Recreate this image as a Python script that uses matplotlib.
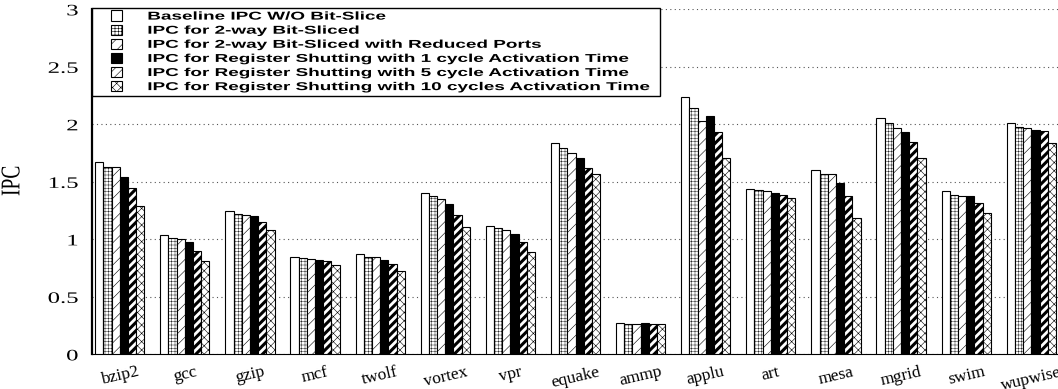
import matplotlib
matplotlib.use("Agg")
import matplotlib.pyplot as plt
from matplotlib.patches import Rectangle
from matplotlib.legend_handler import HandlerPatch
from matplotlib.patheffects import AbstractPathEffect
from matplotlib.transforms import Affine2D
import numpy as np

benchmarks = ["bzip2", "gcc", "gzip", "mcf", "twolf", "vortex", "vpr", "equake",
              "ammp", "applu", "art", "mesa", "mgrid", "swim", "wupwise"]

series_names = [
    "Baseline IPC W/O Bit-Slice",
    "IPC for 2-way Bit-Sliced",
    "IPC for 2-way Bit-Sliced with Reduced Ports",
    "IPC for Register Shutting with 1 cycle Activation Time",
    "IPC for Register Shutting with 5 cycle Activation Time",
    "IPC for Register Shutting with 10 cycles Activation Time",
]

baseline   = [1.67, 1.04, 1.25, 0.85, 0.87, 1.40, 1.12, 1.84, 0.27, 2.235, 1.435, 1.60, 2.055, 1.417, 2.01]
sliced     = [1.63, 1.01, 1.22, 0.835, 0.85, 1.375, 1.10, 1.795, 0.265, 2.14, 1.426, 1.57, 2.01, 1.388, 1.975]
reduced    = [1.625, 1.005, 1.21, 0.83, 0.845, 1.35, 1.08, 1.75, 0.265, 2.025, 1.417, 1.565, 1.965, 1.377, 1.965]
shut_1cyc  = [1.54, 0.98, 1.20, 0.82, 0.82, 1.31, 1.045, 1.71, 0.272, 2.07, 1.406, 1.49, 1.935, 1.377, 1.948]
shut_5cyc  = [1.445, 0.90, 1.148, 0.81, 0.79, 1.21, 0.977, 1.62, 0.262, 1.935, 1.388, 1.377, 1.846, 1.316, 1.94]
shut_10cyc = [1.287, 0.81, 1.078, 0.78, 0.728, 1.107, 0.887, 1.568, 0.262, 1.704, 1.357, 1.19, 1.704, 1.226, 1.835]

all_series = [baseline, sliced, reduced, shut_1cyc, shut_5cyc, shut_10cyc]

# fill / hatch / hatch width for each series
styles = [
    ("white", "", 0.5),
    ("white", "+++++", 0.3),
    ("white", "///", 0.4),
    ("black", "", 0.5),
    ("white", "////", 2.2),
    ("white", "xxxx", 0.4),
]

plt.rcParams["hatch.linewidth"] = 0.4


class Stretch(AbstractPathEffect):
    """Scale glyphs along the text direction, keeping the left or right end fixed."""
    def __init__(self, sx, anchor="left"):
        super().__init__()
        self.sx = sx
        self.anchor = anchor

    def draw_path(self, renderer, gc, tpath, affine, rgbFace=None):
        x0 = 0.0
        if self.anchor == "right":
            x0 = tpath.get_extents().x1
        t = Affine2D().translate(-x0, 0).scale(self.sx, 1.0).translate(x0, 0)
        renderer.draw_path(gc, tpath, t + affine, rgbFace)


fig = plt.figure(figsize=(10.58, 3.89), dpi=100)
ax = fig.add_axes([0.087, 0.089, 0.913, 0.887])

x = np.arange(len(benchmarks))
width = 0.126
handles = []
for i, (vals, (fc, hatch, hlw)) in enumerate(zip(all_series, styles)):
    offs = (i - 2.5) * width
    bars = ax.bar(x + offs, vals, width, facecolor=fc, edgecolor="black",
                  linewidth=0.8, hatch=hatch, label=series_names[i], zorder=3)
    if hasattr(bars[0], "set_hatch_linewidth"):
        for b in bars:
            b.set_hatch_linewidth(hlw)
    handles.append(bars[0])

ax.set_xlim(-0.425, 14.41)
ax.set_ylim(0, 3)
ax.set_yticks([0, 0.5, 1, 1.5, 2, 2.5, 3])
ax.set_yticklabels(["0", "0.5", "1", "1.5", "2", "2.5", "3"],
                   family="Liberation Serif", fontsize=11.5)
for t in ax.get_yticklabels():
    t.set_path_effects([Stretch(1.55, "right")])
ax.set_xticks(x)
ax.set_xticklabels(benchmarks, family="Liberation Serif", fontsize=12.5,
                   rotation=13, ha="center")
ax.tick_params(axis="both", length=0)
ax.tick_params(axis="x", pad=7)
ax.tick_params(axis="y", pad=10)

ylab = ax.set_ylabel("IPC", family="Liberation Serif", fontsize=19.5)
ylab.set_path_effects([Stretch(0.72)])
ax.yaxis.set_label_coords(-0.069, 0.52)

ax.yaxis.grid(True, linestyle=(0, (1, 3)), color="#555555", linewidth=0.8, zorder=0)
ax.spines["top"].set_visible(False)
ax.spines["right"].set_visible(False)
ax.spines["left"].set_linewidth(1.6)
ax.spines["bottom"].set_linewidth(0.8)


def small_square(legend, orig_handle, xdescent, ydescent, width, height, fontsize):
    s = 7.5
    return Rectangle((width / 2 - s / 2 - xdescent, height / 2 - s / 2 - ydescent), s, s)


leg_font = {"family": "Liberation Sans", "weight": "bold", "size": 8.2}
leg_w = 568.0 / (0.913 * 1058)
leg = ax.legend(handles, series_names, loc="upper left",
                bbox_to_anchor=(0, 0.6, leg_w, 0.405), mode="expand",
                borderaxespad=0, fancybox=False, edgecolor="black", framealpha=1,
                prop=leg_font, handlelength=3.6, handleheight=0.7, handletextpad=0.9,
                labelspacing=0.36, borderpad=0.35,
                handler_map={Rectangle: HandlerPatch(patch_func=small_square)})
leg.get_frame().set_linewidth(1.0)
leg.set_zorder(5)

# widen the legend labels so the longest one spans about 506 px
renderer = fig.canvas.get_renderer()
longest = max(t.get_window_extent(renderer).width for t in leg.get_texts())
sx = 506.0 / longest
for t in leg.get_texts():
    t.set_path_effects([Stretch(sx)])

fig.savefig("out.png", dpi=100)
